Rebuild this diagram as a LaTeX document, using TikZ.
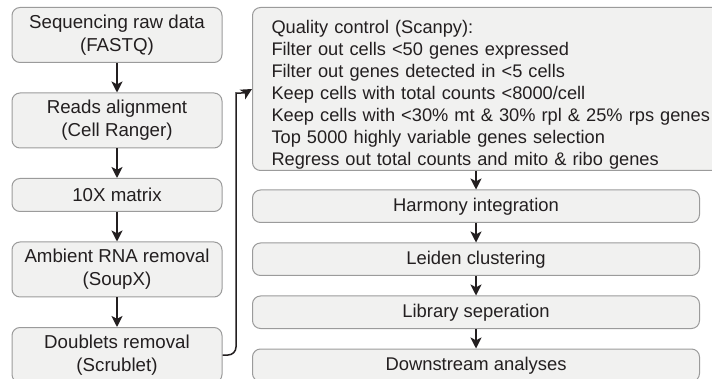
\documentclass[tikz,border=0pt]{standalone}
\usepackage{fontspec}
\setmainfont{Liberation Sans}
\usepackage{tikz}
\usetikzlibrary{positioning,arrows.meta,calc}
\definecolor{boxgray}{RGB}{155,155,155}
\definecolor{boxfill}{RGB}{241,241,240}
\definecolor{inkdark}{RGB}{35,31,32}

\begin{document}
\begin{tikzpicture}[>={Stealth[length=5.5pt,width=5.5pt,inset=1.4pt]},
    stepbox/.style={draw=boxgray,fill=boxfill,line width=0.5pt,rounded corners=4pt,align=center,
      text=inkdark,font=\fontsize{9.35}{11.6}\selectfont,inner sep=0pt,minimum width=105pt,minimum height=27.5pt},
    widebox/.style={stepbox,font=\fontsize{9.2}{11}\selectfont,minimum width=223.5pt,minimum height=16.25pt},
    flow/.style={->,draw=inkdark,line width=0.75pt}]
    \useasboundingbox (0,0) rectangle (356pt,-189.5pt);
    % left column: raw data to doublets
    \node[stepbox,anchor=north] (fastq) at (58.5pt,-3.5pt) {Sequencing raw data\\(FASTQ)};
    \node[stepbox,below=14.75pt of fastq] (align) {Reads alignment\\(Cell Ranger)};
    \node[stepbox,below=14.75pt of align,minimum height=16.5pt] (mtx) {10X matrix};
    \node[stepbox,below=14.75pt of mtx] (soup) {Ambient RNA removal\\(SoupX)};
    \node[stepbox,below=14.75pt of soup] (dbl) {Doublets removal\\(Scrublet)};
    \draw[flow] (fastq)--(align); \draw[flow] (align)--(mtx);
    \draw[flow] (mtx)--(soup); \draw[flow] (soup)--(dbl);
    % right column: scanpy steps
    \node[stepbox,anchor=north west,align=left,font=\fontsize{9.12}{11}\selectfont,text width=230pt,inner xsep=9.5pt,
      minimum height=81.5pt] (qc) at (126pt,-3.5pt)
      {\rule{0pt}{12pt}Quality control (Scanpy):\\Filter out cells <50 genes expressed\\Filter out genes detected in <5 cells\\
       Keep cells with total counts <8000/cell\\Keep cells with <30\% mt \& 30\% rpl \& 25\% rps genes\\
       Top 5000 highly variable genes selection\\Regress out total counts and mito \& ribo genes};
    \node[widebox,anchor=north west] (harm) at (126pt,-94.75pt) {Harmony integration};
    \node[widebox,below=9.75pt of harm] (leid) {Leiden clustering};
    \node[widebox,below=9.75pt of leid] (lib) {Library seperation};
    \node[widebox,below=9.75pt of lib] (down) {Downstream analyses};
    \draw[flow] (qc.south -| harm.north)--(harm); \draw[flow] (harm)--(leid);
    \draw[flow] (leid)--(lib); \draw[flow] (lib)--(down);
    % link between the columns
    \coordinate (rise) at ([xshift=-8pt,yshift=-6pt]qc.west);
    \draw[flow,rounded corners=4pt] (dbl.east) -| (rise) to[out=90,in=210] (qc.west);
  \end{tikzpicture}
\end{document}
